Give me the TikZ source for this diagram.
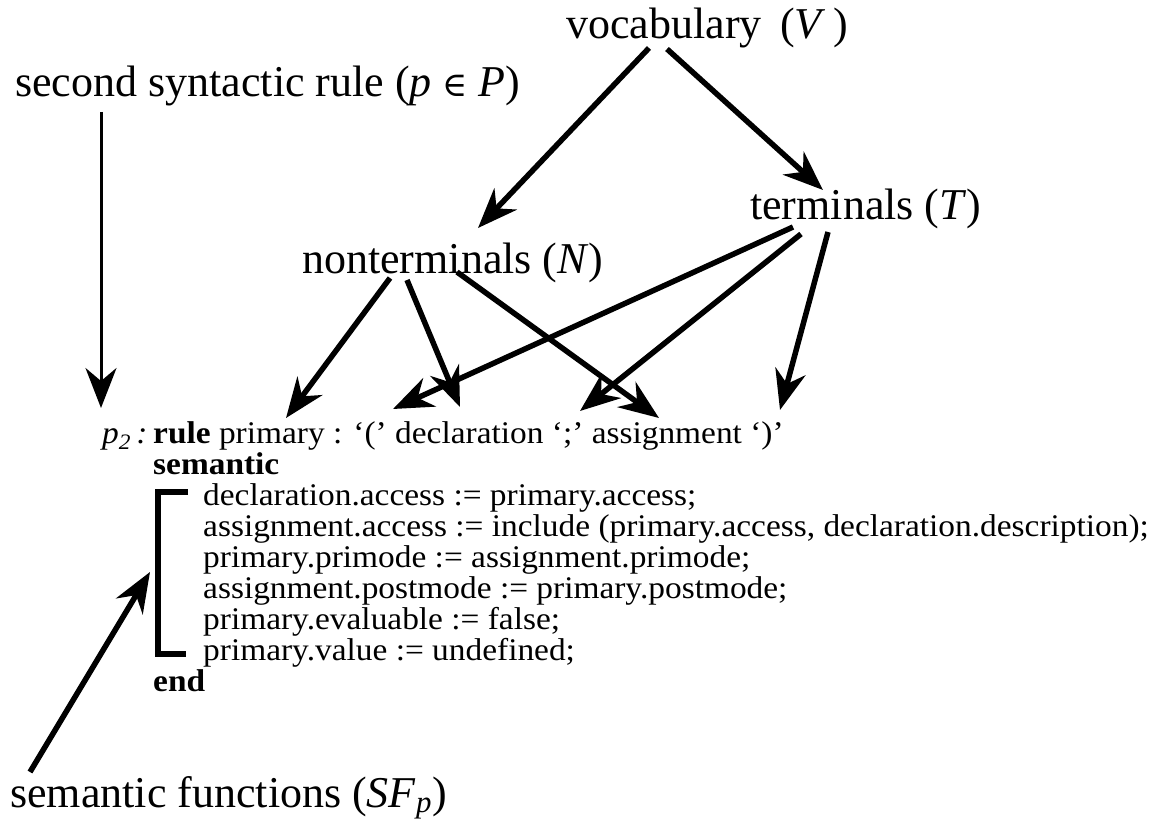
\documentclass[tikz,border=0pt]{standalone}
\usepackage{fontspec}
\setmainfont{Liberation Serif}
\newfontfamily\codefont[FakeStretch=1.06]{Liberation Serif}
\newfontfamily\symbfont{DejaVu Serif}
\usetikzlibrary{arrows.meta}
\tikzset{
  label/.style={font=\fontsize{44}{48}\selectfont, inner sep=0pt, anchor=base west},
  codeline/.style={font=\codefont\fontsize{31.5}{31}\selectfont, inner sep=0pt, anchor=base west},
  heavy/.style={line width=5.5pt, -{Stealth[length=40pt,width=31pt,inset=13pt]}},
  light/.style={line width=3pt, -{Stealth[length=40pt,width=31pt,inset=13pt]}},
  bracket/.style={line width=6pt, line join=miter},
}
\begin{document}
\begin{tikzpicture}[x=1pt,y=-1pt]
\useasboundingbox (0,0) rectangle (1160,821);

% headline labels
\node[label] (rule2) at (15,97) {second syntactic rule (\textit{p} {\symbfont\fontsize{34}{34}\selectfont ∈} \textit{P})};
\node[label] (voc)   at (566,39) {vocabulary\, (\textit{V}\,)};
\node[label] (term)  at (750,220) {terminals (\textit{T})};
\node[label] (nterm) at (302,273) {nonterminals (\textit{N})};
\node[label] (semf)  at (10,807) {semantic functions (\textit{SF}\textsubscript{\textit{p}})};

% the attributed rule
\node[codeline] (pname) at (102,443) {\textit{p}\textsubscript{\textit{2}}\,\textit{:}};
\node[codeline] (head) at (153,443) {\textbf{rule} primary : ‘(’ declaration ‘;’ assignment ‘)’};
\node[codeline] (sem)  at (153,474) {\textbf{semantic}};
\node[codeline] (l1) at (203,505) {declaration.access := primary.access;};
\node[codeline] (l2) at (203,536) {assignment.access := include (primary.access, declaration.description);};
\node[codeline] (l3) at (203,567) {primary.primode := assignment.primode;};
\node[codeline] (l4) at (203,598) {assignment.postmode := primary.postmode;};
\node[codeline] (l5) at (203,629) {primary.evaluable := false;};
\node[codeline] (l6) at (203,660) {primary.value := undefined;};
\node[codeline] (fin) at (153,691) {\textbf{end}};

% bracket round the semantic functions
\draw[bracket] (188,492) -- (158,492) -- (158,654) -- (186,654);

% connector end points
\coordinate (r2s) at (101,112);  \coordinate (r2e) at (101,408);
\coordinate (v1s) at (649,48);   \coordinate (v1e) at (478,228);
\coordinate (v2s) at (667,49);   \coordinate (v2e) at (823,190);
\coordinate (n1s) at (390,278);  \coordinate (n1e) at (286,418);
\coordinate (n2s) at (407,280);  \coordinate (n2e) at (460,407);
\coordinate (n3s) at (457,272);  \coordinate (n3e) at (659,418);
\coordinate (t1s) at (793,227);  \coordinate (t1e) at (393,409);
\coordinate (t2s) at (801,234);  \coordinate (t2e) at (580,411);
\coordinate (t3s) at (828,232);  \coordinate (t3e) at (780,410);
\coordinate (sfs) at (30,772);   \coordinate (sfe) at (150,572);

\draw[light] (r2s) -- (r2e);
\draw[heavy] (v1s) -- (v1e);
\draw[heavy] (v2s) -- (v2e);
\draw[heavy] (n1s) -- (n1e);
\draw[heavy] (n2s) -- (n2e);
\draw[heavy] (n3s) -- (n3e);
\draw[heavy] (t1s) -- (t1e);
\draw[heavy] (t2s) -- (t2e);
\draw[heavy] (t3s) -- (t3e);
\draw[heavy] (sfs) -- (sfe);
\end{tikzpicture}
\end{document}
